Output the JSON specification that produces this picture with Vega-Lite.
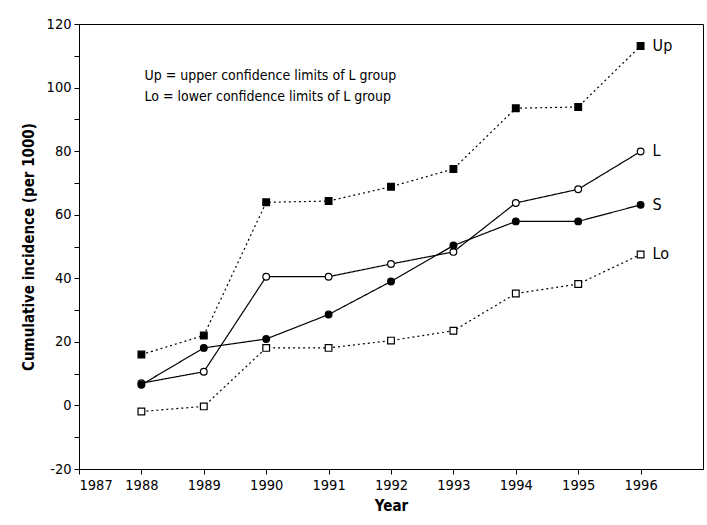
{
  "$schema": "https://vega.github.io/schema/vega-lite/v6.json",
  "width": 624,
  "height": 445,
  "autosize": {"type": "none"},
  "padding": {"left": 79, "top": 24, "right": 4, "bottom": 56},
  "background": "white",
  "config": {
    "font": "DejaVu Sans Condensed, sans-serif",
    "view": {"stroke": "black", "strokeWidth": 1},
    "axis": {
      "grid": false,
      "domainColor": "black",
      "tickColor": "black",
      "labelColor": "black",
      "titleColor": "black",
      "labelFontSize": 14.5,
      "titleFontSize": 15,
      "titleFontWeight": "bold",
      "tickSize": 5,
      "labelFont": "DejaVu Sans Condensed, sans-serif",
      "titleFont": "DejaVu Sans Condensed, sans-serif"
    }
  },
  "data": {
    "values": [
      {"year": 1988, "value": 16.0, "series": "Up"},
      {"year": 1989, "value": 22.0, "series": "Up"},
      {"year": 1990, "value": 63.9, "series": "Up"},
      {"year": 1991, "value": 64.3, "series": "Up"},
      {"year": 1992, "value": 68.8, "series": "Up"},
      {"year": 1993, "value": 74.4, "series": "Up"},
      {"year": 1994, "value": 93.5, "series": "Up"},
      {"year": 1995, "value": 93.9, "series": "Up"},
      {"year": 1996, "value": 113.1, "series": "Up"},
      {"year": 1988, "value": 7.0, "series": "L"},
      {"year": 1989, "value": 10.6, "series": "L"},
      {"year": 1990, "value": 40.5, "series": "L"},
      {"year": 1991, "value": 40.5, "series": "L"},
      {"year": 1992, "value": 44.5, "series": "L"},
      {"year": 1993, "value": 48.3, "series": "L"},
      {"year": 1994, "value": 63.7, "series": "L"},
      {"year": 1995, "value": 68.0, "series": "L"},
      {"year": 1996, "value": 79.9, "series": "L"},
      {"year": 1988, "value": 6.5, "series": "S"},
      {"year": 1989, "value": 18.1, "series": "S"},
      {"year": 1990, "value": 20.9, "series": "S"},
      {"year": 1991, "value": 28.6, "series": "S"},
      {"year": 1992, "value": 39.0, "series": "S"},
      {"year": 1993, "value": 50.3, "series": "S"},
      {"year": 1994, "value": 57.9, "series": "S"},
      {"year": 1995, "value": 57.9, "series": "S"},
      {"year": 1996, "value": 63.1, "series": "S"},
      {"year": 1988, "value": -1.9, "series": "Lo"},
      {"year": 1989, "value": -0.3, "series": "Lo"},
      {"year": 1990, "value": 18.1, "series": "Lo"},
      {"year": 1991, "value": 18.1, "series": "Lo"},
      {"year": 1992, "value": 20.4, "series": "Lo"},
      {"year": 1993, "value": 23.5, "series": "Lo"},
      {"year": 1994, "value": 35.2, "series": "Lo"},
      {"year": 1995, "value": 38.2, "series": "Lo"},
      {"year": 1996, "value": 47.5, "series": "Lo"}
    ]
  },
  "encoding": {
    "x": {
      "field": "year",
      "type": "quantitative",
      "scale": {"domain": [1987, 1997], "nice": false, "zero": false},
      "axis": {
        "title": "Year",
        "values": [1987, 1988, 1989, 1990, 1991, 1992, 1993, 1994, 1995, 1996],
        "format": "d",
        "labelPadding": 4,
        "titlePadding": 7
      }
    },
    "y": {
      "field": "value",
      "type": "quantitative",
      "scale": {"domain": [-20, 120], "nice": false, "zero": false},
      "axis": {
        "title": "Cumulative incidence (per  1000)",
        "values": [-20, -10, 0, 10, 20, 30, 40, 50, 60, 70, 80, 90, 100, 110, 120],
        "labelExpr": "datum.value % 20 == 0 ? '' + datum.value : ''",
        "labelPadding": 3,
        "titlePadding": 10
      }
    }
  },
  "layer": [
    {
      "mark": {"type": "line", "color": "black"},
      "encoding": {
        "detail": {"field": "series"},
        "strokeDash": {
          "field": "series",
          "type": "nominal",
          "scale": {"domain": ["Up", "L", "S", "Lo"], "range": [[2, 3], [1, 0], [1, 0], [2, 3]]},
          "legend": null
        },
        "strokeWidth": {
          "field": "series",
          "type": "nominal",
          "scale": {"domain": ["Up", "L", "S", "Lo"], "range": [1.2, 1.2, 2, 1.2]},
          "legend": null
        }
      }
    },
    {
      "mark": {"type": "point", "filled": true, "stroke": "black", "strokeWidth": 1.2, "size": 45, "opacity": 1},
      "encoding": {
        "shape": {
          "field": "series",
          "type": "nominal",
          "scale": {"domain": ["Up", "L", "S", "Lo"], "range": ["square", "circle", "circle", "square"]},
          "legend": null
        },
        "color": {
          "field": "series",
          "type": "nominal",
          "scale": {"domain": ["Up", "L", "S", "Lo"], "range": ["black", "white", "black", "white"]},
          "legend": null
        }
      }
    },
    {
      "transform": [{"filter": "datum.year == 1996"}],
      "mark": {"type": "text", "align": "left", "dx": 12, "fontSize": 16, "color": "black", "font": "DejaVu Sans Condensed, sans-serif"},
      "encoding": {"text": {"field": "series"}}
    },
    {
      "data": {
        "values": [
          {"ax": 1988.05, "ay": 103.5, "t": "Up = upper confidence limits of L group"},
          {"ax": 1988.05, "ay": 97.0, "t": "Lo = lower confidence limits of L group"}
        ]
      },
      "mark": {"type": "text", "align": "left", "baseline": "middle", "fontSize": 14, "color": "black", "font": "DejaVu Sans Condensed, sans-serif"},
      "encoding": {
        "x": {"field": "ax", "type": "quantitative"},
        "y": {"field": "ay", "type": "quantitative"},
        "text": {"field": "t"}
      }
    }
  ]
}
